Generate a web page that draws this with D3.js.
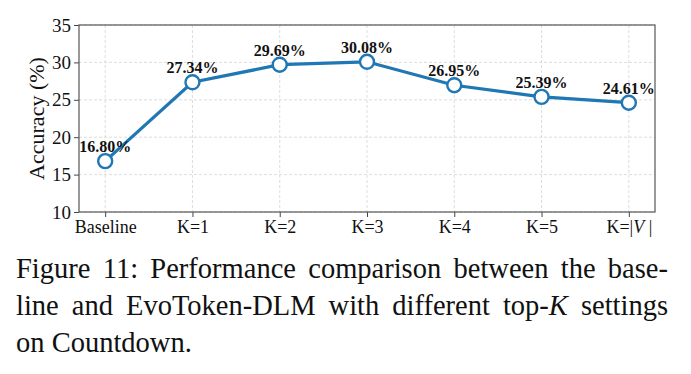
<!DOCTYPE html>
<head>
  <meta charset="utf-8">
  <script src="https://d3js.org/d3.v7.min.js"></script>
  <style>
    body { margin:0; background:#fff; }
    text { font-family: "Liberation Serif", "Times New Roman", serif; }
  </style>
</head>
<body>
  <svg id="chart" width="691" height="374"></svg>
  <script>
    // data
    const categories = ["Baseline", "K=1", "K=2", "K=3", "K=4", "K=5", "K=|V|"];
    const accuracy = [16.80, 27.34, 29.69, 30.08, 26.95, 25.39, 24.61];
    const yTicks = [10, 15, 20, 25, 30, 35];

    const margin = {top: 25, right: 36, bottom: 162, left: 79};
    const width = 691, height = 374;
    const svg = d3.select("#chart");

    const x = d3.scalePoint().domain(categories)
      .range([margin.left, width - margin.right]).padding(0.3);
    const y = d3.scaleLinear().domain([10, 35])
      .range([height - margin.bottom, margin.top]);

    const blue = "#1f77b4";

    // grid
    const grid = svg.append("g").attr("stroke", "#d4d4d4").attr("stroke-dasharray", "3,2").attr("stroke-width", 0.8);
    grid.selectAll(".gy").data(yTicks).join("line")
      .attr("x1", margin.left).attr("x2", width - margin.right)
      .attr("y1", d => y(d)).attr("y2", d => y(d));
    grid.selectAll(".gx").data(categories).join("line")
      .attr("x1", d => x(d)).attr("x2", d => x(d))
      .attr("y1", margin.top).attr("y2", height - margin.bottom);

    // axes
    const yAxis = svg.append("g").attr("transform", `translate(${margin.left},0)`)
      .call(d3.axisLeft(y).tickValues(yTicks).tickSize(5).tickPadding(3));
    const xAxis = svg.append("g").attr("transform", `translate(0,${height - margin.bottom})`)
      .call(d3.axisBottom(x).tickSize(5).tickPadding(3));
    [yAxis, xAxis].forEach(a => {
      a.select(".domain").remove();
      a.selectAll("line").attr("stroke", "#444");
      a.selectAll("text").attr("font-size", 19).attr("fill", "#111")
        .style("font-family", '"Liberation Serif", serif');
    });
    xAxis.selectAll("text").attr("font-size", 18);
    // script V on last label
    xAxis.selectAll("text").filter(d => d === "K=|V|").each(function () {
      const t = d3.select(this).text("");
      t.append("tspan").text("K=|");
      t.append("tspan").text("V").attr("font-style", "italic");
      t.append("tspan").text(" |");
    });

    // frame
    svg.append("rect")
      .attr("x", margin.left).attr("y", margin.top)
      .attr("width", width - margin.right - margin.left)
      .attr("height", height - margin.bottom - margin.top)
      .attr("fill", "none").attr("stroke", "#555").attr("stroke-width", 1.2);

    // y label
    svg.append("text")
      .attr("transform", `translate(44,${(margin.top + height - margin.bottom) / 2}) rotate(-90)`)
      .attr("text-anchor", "middle").attr("font-size", 22).attr("fill", "#111")
      .text("Accuracy (%)");

    // line + markers
    const pts = categories.map((c, i) => [x(c), y(accuracy[i])]);
    svg.append("path").datum(pts)
      .attr("d", d3.line())
      .attr("fill", "none").attr("stroke", blue).attr("stroke-width", 3.2);
    svg.selectAll(".dot").data(pts).join("circle")
      .attr("cx", d => d[0]).attr("cy", d => d[1]).attr("r", 7)
      .attr("fill", "#fff").attr("stroke", blue).attr("stroke-width", 2.4);

    svg.selectAll(".lbl").data(accuracy).join("text")
      .attr("x", (d, i) => x(categories[i])).attr("y", d => y(d) - 9)
      .attr("text-anchor", "middle").attr("font-size", 16).attr("font-weight", "bold")
      .attr("fill", "#111")
      .text(d => d.toFixed(2) + "%");

    // caption, justified with word spacing like LaTeX
    const capW = 652, capX = 16;
    const cap = svg.append("g").attr("font-size", 28.5).attr("fill", "#111");
    function justify(t) {
      const s = t.text().split(" ").length - 1;
      const w = t.node().getComputedTextLength();
      t.attr("word-spacing", Math.max(0, (capW - w) / s));
    }
    const l1 = cap.append("text").attr("x", capX).attr("y", 278)
      .text("Figure 11: Performance comparison between the base-");
    justify(l1);
    const l2 = cap.append("text").attr("x", capX).attr("y", 315);
    l2.append("tspan").text("line and EvoToken-DLM with different top-");
    l2.append("tspan").attr("font-style", "italic").text("K");
    l2.append("tspan").text(" settings");
    justify(l2);
    cap.append("text").attr("x", capX).attr("y", 351.5).text("on Countdown.");
  </script>
</body>
